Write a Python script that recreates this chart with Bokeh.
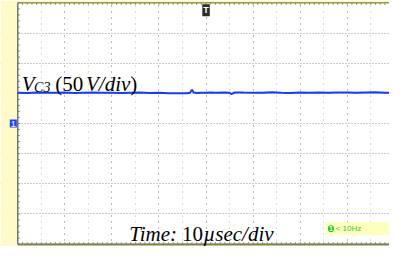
from bokeh.plotting import figure
from bokeh.models import Range1d, SingleIntervalTicker, Label, BoxAnnotation
from bokeh.embed import file_html
from bokeh.resources import INLINE

times_us = [-40, -38, -36, -34, -32, -30, -28, -26, -24, -22,
            -20, -18, -16, -14, -12, -10, -8, -6, -5, -4,
            -3.4, -3.0, -2.6, -2, -1, 0, 1, 2, 4, 5,
            5.4, 6, 7, 8, 10, 12, 14, 16, 18, 20,
            22, 24, 26, 28, 30, 32, 34, 36, 38, 39]
vc3_volts = [51.0, 50.6, 51.2, 50.8, 51.0, 51.4, 50.7, 51.0, 51.3, 50.8,
             51.1, 50.6, 51.0, 51.2, 50.7, 51.0, 50.2, 50.0, 50.3, 50.1,
             51.0, 56.0, 51.2, 50.6, 51.0, 50.8, 51.2, 51.0, 51.4, 50.9,
             48.6, 51.3, 51.5, 51.2, 50.8, 51.1, 51.6, 51.0, 50.7, 51.2,
             51.0, 51.4, 50.9, 51.2, 51.5, 51.0, 51.3, 51.6, 50.9, 51.2]
volts_per_div = 50
minor_time_div_us = 5
x_start, x_end = -40, 39          # visible screen time span (µs)
y_start, y_end = -200, 200        # 8 divisions of 50 V

W, H = 389, 246

# helpers: reference-screen pixel -> data (for annotation placement only)
def fx(px):
    return (px - 214) / 24.5 * minor_time_div_us

def fy(py):
    return (131 - py) / 32.125 * volts_per_div

xr = Range1d(fx(0), fx(405))
yr = Range1d(fy(262), fy(0))
px_x = (xr.end - xr.start) / W
px_y = (yr.end - yr.start) / H

p = figure(width=W, height=H, output_backend="svg", toolbar_location=None,
           x_range=xr, y_range=yr, x_axis_location=None, y_axis_location=None,
           min_border=0)
p.border_fill_color = "#fffbc8"
p.background_fill_color = "white"
p.outline_line_color = None

# grid
p.xgrid.ticker = SingleIntervalTicker(interval=2 * minor_time_div_us, num_minor_ticks=2)
p.xgrid.grid_line_color = "#999999"
p.xgrid.grid_line_dash = "1 5"
p.xgrid.minor_grid_line_color = "#bbbbbb"
p.xgrid.minor_grid_line_dash = "1 5"
p.ygrid.ticker = SingleIntervalTicker(interval=volts_per_div)
p.ygrid.grid_line_color = "#999999"
p.ygrid.grid_line_dash = "1 2"

# pale yellow surround of the screen (covers grid outside the screen)
strip = dict(fill_color="#fffbc8", fill_alpha=1, line_color=None, level="underlay")
p.add_layout(BoxAnnotation(right=x_start, **strip))
p.add_layout(BoxAnnotation(top=y_start, **strip))
p.add_layout(BoxAnnotation(bottom=y_end, **strip))

# borders
p.segment(x0=[x_start], y0=[y_start], x1=[x_start], y1=[y_end], line_color="#555555", line_width=1.2)
p.segment(x0=[x_start], y0=[y_end], x1=[xr.end], y1=[y_end], line_color="#9a9a3a", line_width=1.5)
p.segment(x0=[x_start], y0=[y_start], x1=[xr.end], y1=[y_start], line_color="#555555", line_width=1.2)
p.segment(x0=[x_start], y0=[y_start - 1.5 * px_y], x1=[xr.end], y1=[y_start - 1.5 * px_y],
          line_color="#c8c860", line_width=1.2)

# border ticks
vt = [y_start + 10 * i for i in range(int((y_end - y_start) / 10) + 1)]
p.segment(x0=[x_start] * len(vt), y0=vt, x1=[x_start + 2 * px_x] * len(vt), y1=vt,
          line_color="#777777", line_width=1)
ht = [x_start + i for i in range(int(xr.end - x_start) + 1)]
p.segment(x0=ht, y0=[y_end] * len(ht), x1=ht, y1=[y_end - 2 * px_y] * len(ht),
          line_color="#888888", line_width=1)
p.segment(x0=ht, y0=[y_start] * len(ht), x1=ht, y1=[y_start + 2 * px_y] * len(ht),
          line_color="#888888", line_width=1)

# trace
p.line(times_us, vc3_volts, line_color="#1a3cf0", line_width=2)

serif = "Liberation Serif"
def txt(s, px, py, size, style="normal", color="black"):
    p.add_layout(Label(x=fx(px), y=fy(py), text=s, text_font=serif, text_font_style=style,
                       text_font_size=f"{size}px", text_color=color,
                       text_baseline="alphabetic", text_align="left"))

txt("V", 22, 89, 21, "italic")
txt("C3", 35, 93, 14, "italic")
txt("(50", 57, 89, 21)
txt("V/div", 89, 89, 21, "italic")
txt(")", 135, 89, 21)

txt("Time:", 134, 249, 21, "italic")
txt("10", 189, 249, 21)
txt("\u00b5sec/div", 211, 249, 21, "italic")

# bandwidth box
p.add_layout(BoxAnnotation(left=fx(338), right=xr.end, top=fy(236), bottom=fy(250),
                           fill_color="#ffffc0", fill_alpha=1, line_color=None))
p.add_layout(Label(x=fx(341), y=fy(243), text="1", text_font="Liberation Sans",
                   text_font_size="7px", text_color="#e8ffe8", text_font_style="bold",
                   background_fill_color="#22cc22", padding=1, border_radius=3,
                   text_baseline="middle", text_align="left"))
p.add_layout(Label(x=fx(349), y=fy(243), text="< 10Hz", text_font="Liberation Sans",
                   text_font_size="8px", text_color="#33cc33",
                   text_baseline="middle", text_align="left"))

# trigger marker and ground marker
p.add_layout(Label(x=0, y=y_end - 1.5 * px_y, text="T", text_font="Liberation Sans",
                   text_font_size="9px", text_font_style="bold", text_color="white",
                   background_fill_color="#2b2b2b", padding=1,
                   text_baseline="top", text_align="center"))
p.add_layout(Label(x=x_start - 1.0 * px_x, y=0, text="1", text_font="Liberation Sans",
                   text_font_size="9px", text_font_style="bold", text_color="#d0dcff",
                   background_fill_color="#1f3fff", padding=1,
                   text_baseline="middle", text_align="right"))

open("out.html", "w").write(file_html(p, INLINE))
